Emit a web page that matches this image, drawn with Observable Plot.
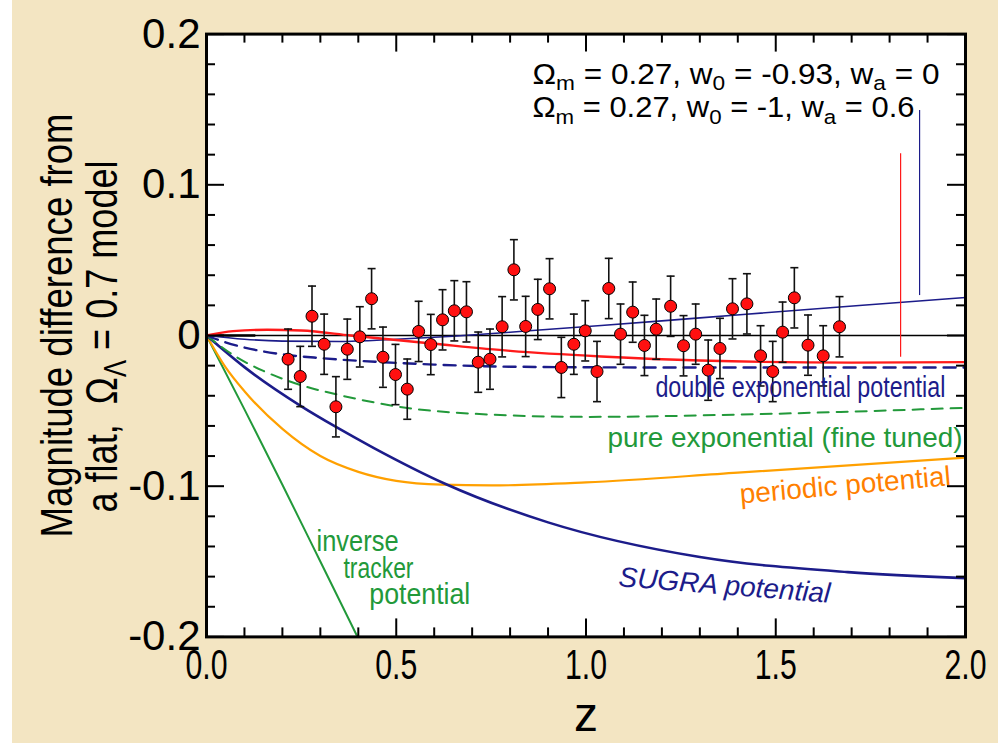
<!DOCTYPE html>
<html>
<head>
<meta charset="utf-8">
<script src="https://cdn.jsdelivr.net/npm/d3@7"></script>
<script src="https://cdn.jsdelivr.net/npm/@observablehq/plot@0.6"></script>
<style>
  html, body { margin: 0; padding: 0; background: #ffffff; }
  #chart { width: 998px; height: 743px; background: #ffffff; overflow: hidden; }
  #chart svg { margin-left: 12px; display: block; }
  #chart svg text { white-space: pre; }
</style>
</head>
<body>
<div id="chart"></div>
<script>
// Supernova magnitude residuals relative to a flat Omega_Lambda = 0.7 model
const snZ = [0.215, 0.247, 0.278, 0.310, 0.341, 0.371, 0.404, 0.435, 0.465, 0.498,
             0.529, 0.559, 0.591, 0.622, 0.653, 0.685, 0.716, 0.747, 0.779, 0.810,
             0.841, 0.873, 0.904, 0.935, 0.968, 0.998, 1.029, 1.060, 1.091, 1.123,
             1.154, 1.185, 1.223, 1.257, 1.289, 1.322, 1.353, 1.386, 1.424, 1.460,
             1.492, 1.518, 1.549, 1.585, 1.625, 1.668];
const snDm = [-0.0157, -0.0272, 0.0128, -0.0058, -0.0473, -0.0091, -0.0009, 0.0244, -0.0144, -0.0259,
              -0.0356, 0.0027, -0.0060, 0.0104, 0.0164, 0.0157, -0.0177, -0.0157, 0.0058, 0.0436,
              0.0060, 0.0173, 0.0310, -0.0212, -0.0058, 0.0031, -0.0239, 0.0312, 0.0009, 0.0155,
              -0.0066, 0.0042, 0.0194, -0.0068, 0.0009, -0.0230, -0.0086, 0.0177, 0.0210, -0.0135,
              -0.0239, 0.0022, 0.0250, -0.0064, -0.0135, 0.0058];
const snErr = snZ.map(() => 0.02);

// Model curves: redshift and magnitude difference
const sugraZ = [0, 0.1, 0.25, 0.34, 0.44, 0.63, 0.9, 1.3, 1.69, 2.0];
const sugraDm = [0, -0.021, -0.047, -0.0605, -0.0745, -0.0985, -0.124, -0.147, -0.157, -0.161];

const periodicZ = [0, 0.05, 0.1, 0.2, 0.3, 0.4, 0.5, 0.62, 0.75, 1.0, 1.4, 2.0];
const periodicDm = [0, -0.021, -0.037, -0.062, -0.08, -0.0905, -0.0965, -0.099, -0.0995, -0.0975, -0.091, -0.081];

const trackerZ = [0, 0.1, 0.2, 0.3, 0.398];
const trackerDm = [0, -0.049, -0.099, -0.15, -0.2];

const pureExpZ = [0, 0.08, 0.15, 0.25, 0.35, 0.5, 0.75, 1.0, 1.4, 2.0];
const pureExpDm = [0, -0.0145, -0.0235, -0.033, -0.0395, -0.047, -0.0525, -0.054, -0.0525, -0.048];

const doubleExpZ = [0, 0.05, 0.1, 0.2, 0.3, 0.45, 0.6, 0.8, 1.2, 2.0];
const doubleExpDm = [0, -0.0045, -0.008, -0.0125, -0.015, -0.0175, -0.0193, -0.0207, -0.0212, -0.0212];

// w0 = -0.93, wa = 0
const constWZ = [0, 0.07, 0.16, 0.25, 0.38, 0.6, 0.8, 1.04, 1.3, 1.7, 2.0];
const constWDm = [0, 0.0029, 0.0038, 0.0033, 0.0, -0.0055, -0.0102, -0.0139, -0.0166, -0.018, -0.0177];

// w0 = -1, wa = 0.6
const evolWZ = [0, 0.1, 0.2, 0.35, 0.5, 0.65, 0.8, 1.04, 1.3, 1.72, 2.0];
const evolWDm = [0, -0.0025, -0.0037, -0.004, -0.0025, -0.0005, 0.0022, 0.0066, 0.0117, 0.0199, 0.0252];

// Cosmological-constant reference: heavy stub at low redshift
const lambdaStubZ = [0, 0.13];

// Vertical pointer lines under the parameter legend
const pointerZ = [1.829, 1.879];
const pointerTop = [0.1206, 0.1493];
const pointerBottom = [-0.0144, 0.0265];
const pointerColor = ["#ff1a1a", "#1c1c8a"];

// Axis ticks
const xMajor = [0, 0.5, 1.0, 1.5, 2.0];
const xMinor = d3.range(0, 21).map(i => i / 10).filter(v => !xMajor.includes(v));
const yMajor = [-0.2, -0.1, 0, 0.1, 0.2];
const yMinor = d3.range(-10, 11).map(i => i / 50).filter(v => Math.round(v * 1000) % 100 !== 0);

// Curve annotations
const curveLabels = ["double exponential potential", "pure exponential (fine tuned)", "periodic potential", "SUGRA potential", "inverse", "tracker", "potential"];
const curveLabelZ = [1.947, 1.992, 1.683, 1.365, 0.290, 0.361, 0.429];
const curveLabelDm = [-0.0411, -0.0737, -0.0995, -0.1659, -0.1427, -0.1606, -0.1785];
const curveLabelColor = ["#1c1c8a", "#22993a", "#ff7f00", "#1c1c8a", "#22993a", "#22993a", "#22993a"];
const curveLabelAnchor = ["end", "end", "middle", "middle", "start", "start", "start"];
const curveLabelRotate = [0, 0, -5, 4.5, 0, 0, 0];
const curveLabelStyle = ["normal", "normal", "normal", "italic", "normal", "normal", "normal"];
const curveLabelSize = [29, 28, 28, 28, 30, 30, 30];

const paramLines = ["Ω_{m} = 0.27, w_{0} = -0.93, w_{a} = 0", "Ω_{m} = 0.27, w_{0} = -1, w_{a} = 0.6"];
const paramZ = [0.859, 0.859];
const paramDm = [0.1672, 0.1447];

const yTitle = ["Magnitude difference from", "a flat,  Ω_{Λ} = 0.7 model"];

const navy = "#1c1c8a";
const sans = "'Liberation Sans', Arial, sans-serif";

// Condensed set widths (px) for texts drawn in a narrow face
const setWidth = new Map([
  ["0.0", 42], ["0.5", 42], ["1.0", 42], ["1.5", 42], ["2.0", 42],
  [yTitle[0], 424], [yTitle[1], 352],
  ["double exponential potential", 290], ["pure exponential (fine tuned)", 355],
  ["inverse", 82], ["tracker", 70], ["potential", 101],
  [paramLines[0], 407], [paramLines[1], 382]
]);

const series = (zs, ds) => zs.map((z, i) => ({z, dm: ds[i]}));
const sn = snZ.map((z, i) => ({z, dm: snDm[i], lo: snDm[i] - snErr[i], hi: snDm[i] + snErr[i]}));
const pointers = pointerZ.map((z, i) => ({z, top: pointerTop[i], bottom: pointerBottom[i], color: pointerColor[i]}));
const labels = curveLabels.map((text, i) => ({
  text, z: curveLabelZ[i], dm: curveLabelDm[i], color: curveLabelColor[i],
  anchor: curveLabelAnchor[i], rotate: curveLabelRotate[i], style: curveLabelStyle[i], size: curveLabelSize[i]
}));

// Horizontal error-bar cap as a dot symbol
const capSymbol = {
  draw(context, size) {
    const w = Math.sqrt(size / Math.PI);
    context.moveTo(-w, 0);
    context.lineTo(w, 0);
  }
};

const W = 986, H = 743;
const mL = 194, mR = 33, mT = 33.6, mB = 106.6;
const plotW = W - mL - mR, plotH = H - mT - mB;
const majorLen = 18, minorLen = 9;

const lineMarks = [];
const addLine = (zs, ds, opts) => lineMarks.push(Plot.line(series(zs, ds), {x: "z", y: "dm", curve: "monotone-x", ...opts}));
addLine(trackerZ, trackerDm, {stroke: "#22993a", strokeWidth: 2});
addLine(periodicZ, periodicDm, {stroke: "#ffa000", strokeWidth: 2.2});
addLine(sugraZ, sugraDm, {stroke: navy, strokeWidth: 2.6});
addLine(pureExpZ, pureExpDm, {stroke: "#22993a", strokeWidth: 2, strokeDasharray: "11,8"});
addLine(doubleExpZ, doubleExpDm, {stroke: navy, strokeWidth: 2.4, strokeDasharray: "12,8"});
addLine(evolWZ, evolWDm, {stroke: navy, strokeWidth: 1.6});
addLine(constWZ, constWDm, {stroke: "#ff1a1a", strokeWidth: 2.4});

const edgeTicks = (values, len, axis) => axis === "x"
  ? [Plot.ruleX(values, {stroke: "black", strokeWidth: 2, insetTop: plotH - len}),
     Plot.ruleX(values, {stroke: "black", strokeWidth: 2, insetBottom: plotH - len})]
  : [Plot.ruleY(values, {stroke: "black", strokeWidth: 2, insetRight: plotW - len}),
     Plot.ruleY(values, {stroke: "black", strokeWidth: 2, insetLeft: plotW - len})];

const chart = Plot.plot({
  width: W,
  height: H,
  marginLeft: mL,
  marginRight: mR,
  marginTop: mT,
  marginBottom: mB,
  style: {background: "#f3e5c2", fontFamily: sans, color: "black"},
  x: {domain: [0, 2], axis: null},
  y: {domain: [-0.2, 0.2], axis: null},
  marks: [
    Plot.frame({fill: "white", stroke: "none"}),
    Plot.ruleY([0], {stroke: "black", strokeWidth: 1.3}),
    Plot.ruleY([0], {x1: lambdaStubZ[0], x2: lambdaStubZ[1], stroke: "black", strokeWidth: 2.6}),
    ...lineMarks,
    Plot.ruleX(pointers, {x: "z", y1: "bottom", y2: "top", stroke: "color", strokeWidth: 1.2}),
    Plot.ruleX(sn, {x: "z", y1: "lo", y2: "hi", stroke: "#111", strokeWidth: 1.6}),
    Plot.dot(sn, {x: "z", y: "lo", symbol: capSymbol, r: 4, stroke: "#111", strokeWidth: 1.6}),
    Plot.dot(sn, {x: "z", y: "hi", symbol: capSymbol, r: 4, stroke: "#111", strokeWidth: 1.6}),
    Plot.dot(sn, {x: "z", y: "dm", r: 6, fill: "#ff1010", stroke: "black", strokeWidth: 1}),
    // curve names
    ...labels.map(d => Plot.text([d], {
      x: "z", y: "dm", text: "text", fill: d.color, textAnchor: d.anchor,
      lineAnchor: d.rotate ? "middle" : "bottom", rotate: d.rotate, fontStyle: d.style,
      fontSize: d.size, fontFamily: sans
    })),
    // model parameters
    Plot.text(paramLines.map((t, i) => ({t, z: paramZ[i], dm: paramDm[i]})), {
      x: "z", y: "dm", text: "t", textAnchor: "start", lineAnchor: "bottom",
      fontSize: 29, fontFamily: sans, fill: "black"
    }),
    // ticks on all four edges
    ...edgeTicks(xMajor, majorLen, "x"),
    ...edgeTicks(xMinor, minorLen, "x"),
    ...edgeTicks(yMajor, majorLen, "y"),
    ...edgeTicks(yMinor, minorLen, "y"),
    Plot.frame({stroke: "black", strokeWidth: 3}),
    // tick labels
    Plot.axisX(xMajor, {tickSize: 0, tickPadding: 12, tickFormat: d => d.toFixed(1), fontSize: 42, fontFamily: sans, label: null}),
    Plot.axisY(yMajor, {tickSize: 0, tickPadding: 6, tickFormat: d => d === 0 ? "0" : d.toFixed(1), fontSize: 42, fontFamily: sans, label: null}),
    // axis titles
    Plot.text(["z"], {frameAnchor: "bottom", dy: 94, lineAnchor: "bottom", fontSize: 48, fontFamily: sans, fill: "black"}),
    Plot.text([yTitle[0]], {frameAnchor: "left", rotate: -90, dx: -135, dy: -10, lineAnchor: "bottom", textAnchor: "middle", fontSize: 44, fontFamily: sans, fill: "black"}),
    Plot.text([yTitle[1]], {frameAnchor: "left", rotate: -90, dx: -90, dy: 1, lineAnchor: "bottom", textAnchor: "middle", fontSize: 44, fontFamily: sans, fill: "black"})
  ]
});

document.getElementById("chart").appendChild(chart);

d3.select(chart).selectAll("text").each(function () {
  const raw = this.textContent;
  const el = d3.select(this);
  // squeeze texts set in a condensed face to their widths
  if (setWidth.has(raw)) {
    el.attr("textLength", setWidth.get(raw)).attr("lengthAdjust", "spacingAndGlyphs");
  }
  // render "_{...}" markup as subscripts
  if (!raw.includes("_{")) return;
  const size = parseFloat(getComputedStyle(this).fontSize);
  const shift = size * 0.22;
  const parts = raw.split(/(_\{[^}]*\})/).filter(s => s.length);
  el.text(null);
  let lowered = false;
  for (const p of parts) {
    const sub = p.startsWith("_{");
    const ts = el.append("tspan").text(sub ? p.slice(2, -1) : p);
    if (sub) {
      ts.attr("font-size", size * 0.72).attr("dy", lowered ? 0 : shift);
      lowered = true;
    } else if (lowered) {
      ts.attr("dy", -shift);
      lowered = false;
    }
  }
});
</script>
</body>
</html>
